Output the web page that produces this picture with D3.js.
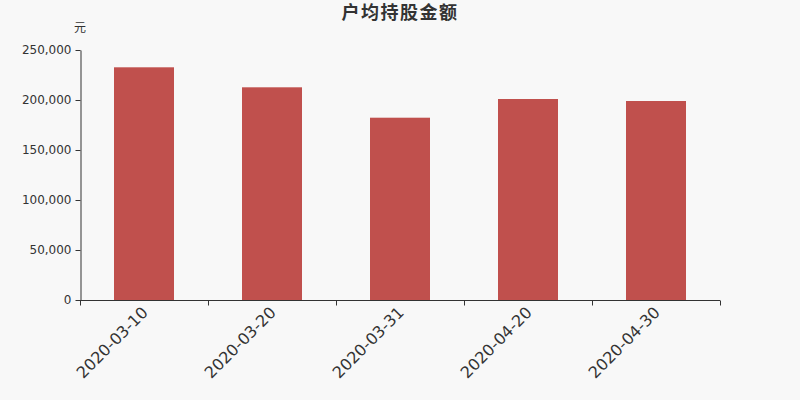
<!DOCTYPE html>
<html>
<head>
  <meta charset="utf-8">
  <script src="https://d3js.org/d3.v7.min.js"></script>
  <style>
    body { margin: 0; background: #f8f8f8; }
    svg { display: block; }
    svg text { font-family: "DejaVu Sans", "Noto Sans CJK SC", sans-serif; }
  </style>
</head>
<body>
<svg id="chart"></svg>
<script>
  const dates = ["2020-03-10", "2020-03-20", "2020-03-31", "2020-04-20", "2020-04-30"]
  const amounts = [232700, 212700, 182300, 201000, 199000]
  const yTicks = [0, 50000, 100000, 150000, 200000, 250000]

  const width = 800, height = 400
  const margin = { top: 50, right: 80, bottom: 100, left: 80 }

  const svg = d3.select("#chart")
    .attr("width", width)
    .attr("height", height)

  svg.append("rect")
    .attr("width", width)
    .attr("height", height)
    .attr("fill", "#f8f8f8")

  const x = d3.scaleBand()
    .domain(dates)
    .range([margin.left, width - margin.right])
    .paddingInner(0.53125)
    .paddingOuter(0.265625)

  const y = d3.scaleLinear()
    .domain([0, 250000])
    .range([height - margin.bottom, margin.top])

  // title
  svg.append("text")
    .attr("x", width / 2)
    .attr("y", 19)
    .attr("text-anchor", "middle")
    .style("font-size", "18px")
    .style("font-weight", "bold")
    .style("letter-spacing", "1.5px")
    .attr("fill", "#333")
    .text("户均持股金额")

  // unit
  svg.append("text")
    .attr("x", margin.left)
    .attr("y", 32)
    .attr("text-anchor", "middle")
    .style("font-size", "12px")
    .attr("fill", "#333")
    .text("元")

  // bars
  svg.append("g")
    .selectAll("rect")
    .data(amounts)
    .join("rect")
    .attr("x", (d, i) => x(dates[i]))
    .attr("y", d => y(d))
    .attr("width", x.bandwidth())
    .attr("height", d => y(0) - y(d))
    .attr("fill", "#c0504d")

  // y axis
  const yAxis = svg.append("g")
    .attr("transform", `translate(${margin.left + 0.5}, 0)`)
    .call(d3.axisLeft(y).tickValues(yTicks).tickFormat(d3.format(",")).tickSize(5).tickSizeOuter(0))
  yAxis.select(".domain").attr("stroke", "#333")
  yAxis.selectAll(".tick line").attr("stroke", "#333")
  yAxis.selectAll(".tick text")
    .attr("fill", "#333")
    .style("font-size", "12px")
    .attr("x", -9)

  // x axis, ticks on band edges
  const xAxis = svg.append("g")
    .attr("transform", `translate(0, ${y(0) + 0.5})`)
  xAxis.append("line")
    .attr("x1", margin.left)
    .attr("x2", width - margin.right)
    .attr("stroke", "#333")
  const tickPos = d3.range(dates.length + 1).map(i => margin.left + i * x.step())
  xAxis.selectAll(".tk")
    .data(tickPos)
    .join("line")
    .attr("class", "tk")
    .attr("x1", d => Math.round(d) + 0.5)
    .attr("x2", d => Math.round(d) + 0.5)
    .attr("y1", 0)
    .attr("y2", 5)
    .attr("stroke", "#333")

  xAxis.selectAll(".lbl")
    .data(dates)
    .join("text")
    .attr("class", "lbl")
    .attr("text-anchor", "end")
    .attr("transform", d => `translate(${x(d) + x.bandwidth() / 2 + 5}, 13) rotate(-45)`)
    .style("font-size", "16px")
    .attr("fill", "#333")
    .text(d => d)
</script>
</body>
</html>
